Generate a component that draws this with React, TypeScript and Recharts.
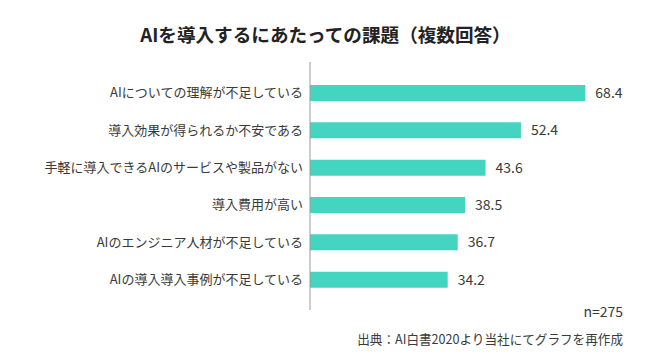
import React from "react";
import { BarChart, Bar, XAxis, YAxis, LabelList } from "recharts";

const categories = [
  "AIについての理解が不足している",
  "導入効果が得られるか不安である",
  "手軽に導入できるAIのサービスや製品がない",
  "導入費用が高い",
  "AIのエンジニア人材が不足している",
  "AIの導入導入事例が不足している",
];
const values = [68.4, 52.4, 43.6, 38.5, 36.7, 34.2];

const title = "AIを導入するにあたっての課題（複数回答）";
const sampleNote = "n=275";
const sourceNote = "出典：AI白書2020より当社にてグラフを再作成";

const data = categories.map((name, i) => ({ name, value: values[i] }));

const FONT = '"Noto Sans CJK JP", "Noto Sans", sans-serif';

export default function App() {
  return (
    <div style={{ position: "relative", width: 650, height: 361, fontFamily: FONT, background: "#fff" }}>
      <style>{`body{margin:0}`}</style>
      <div
        style={{
          position: "absolute",
          left: 0,
          width: 651,
          top: 21,
          textAlign: "center",
          fontSize: 18.6,
          fontWeight: 700,
          lineHeight: "26px",
          color: "#222",
        }}
      >
        {title}
      </div>
      <BarChart
        width={650}
        height={361}
        data={data}
        layout="vertical"
        margin={{ top: 62, right: 26, bottom: 51, left: 0 }}
      >
        <XAxis type="number" domain={[0, 78]} hide />
        <YAxis
          type="category"
          dataKey="name"
          width={310}
          padding={{ top: 12, bottom: 12 }}
          tickLine={false}
          tickSize={0}
          tickMargin={7}
          axisLine={{ stroke: "#9a9a9a", strokeWidth: 1 }}
          tick={{ fill: "#3a3a3a", fontSize: 13, fontFamily: FONT }}
          interval={0}
        />
        <Bar dataKey="value" fill="#43D5C0" barSize={16} isAnimationActive={false}>
          <LabelList
            dataKey="value"
            position="right"
            offset={10}
            style={{ fill: "#3a3a3a", fontSize: 14, fontFamily: FONT }}
          />
        </Bar>
      </BarChart>
      <div
        style={{
          position: "absolute",
          right: 27,
          top: 301,
          fontSize: 14,
          lineHeight: "20px",
          color: "#3a3a3a",
        }}
      >
        {sampleNote}
      </div>
      <div
        style={{
          position: "absolute",
          right: 27,
          top: 330,
          fontSize: 12.6,
          lineHeight: "18px",
          color: "#3a3a3a",
        }}
      >
        {sourceNote}
      </div>
    </div>
  );
}
